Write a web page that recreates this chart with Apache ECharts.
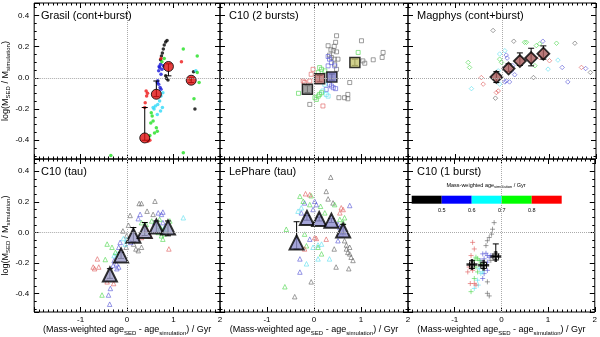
<!DOCTYPE html>
<html>
<head>
<meta charset="UTF-8">
<title>SED fits: mass offset vs age offset</title>
<script src="https://cdn.jsdelivr.net/npm/echarts@6/dist/echarts.min.js"></script>
<style>
    html, body { margin: 0; padding: 0; background: #fff; }
    #chart { width: 600px; height: 337px; }
</style>
</head>
<body>
<div id="chart"></div>
<script>
// ---- data ----
const panelTitles = ['Grasil (cont+burst)', 'C10 (2 bursts)', 'Magphys (cont+burst)', 'C10 (tau)', 'LePhare (tau)', 'C10 (1 burst)'];
const xTickLabels = ['-1', '0', '1', '2'];
const yTickLabels = ['-0.4', '-0.2', '0.0', '0.2', '0.4'];
const ageBinLabels = ['0.5', '0.6', '0.7', '0.8'];

// Grasil (cont+burst): points per age bin (black, blue, cyan, green, red)
const grasilBlack = [[0.86,0.24],[0.83,0.23],[0.80,0.21],[0.78,0.185],[0.76,0.16],[0.74,0.14],[0.72,0.116],[0.83,0.013],[0.85,-0.004],[0.88,-0.013],[1.46,-0.2],[1.43,0.04]];
const grasilBlue = [[0.72,0.088],[0.70,0.067],[0.68,0.045],[0.75,0.056],[0.66,-0.019],[0.68,-0.041],[0.71,-0.062],[0.73,-0.073],[0.65,-0.03],[0.69,0.073],[0.78,0.077],[0.73,0.024]];
const grasilCyan = [[0.77,-0.095],[0.73,-0.116],[0.70,-0.148],[0.66,-0.17],[0.61,-0.18],[0.58,-0.2],[0.76,-0.19],[0.72,-0.213],[0.65,-0.234],[0.56,-0.19],[1.48,0.045]];
const grasilGreen = [[1.21,0.185],[1.51,0.14],[1.44,-0.133],[1.55,-0.03],[1.51,0.035],[1.36,-0.009],[0.52,-0.224],[0.54,-0.245],[0.56,-0.277],[0.63,-0.32],[0.65,-0.342],[0.59,-0.353],[1.21,-0.48],[0.80,0.125],[0.75,0.103],[0.49,-0.37],[0.51,-0.29],[-0.35,-0.497]];
const grasilRed = [[0.41,-0.084],[0.42,-0.116],[0.44,-0.099],[0.38,-0.19],[1.17,0.103],[0.73,0.125],[0.45,-0.406],[0.49,-0.40],[0.39,-0.16]];
const grasilMeanX = [0.38, 0.63, 0.89, 1.38];
const grasilMeanY = [-0.385, -0.105, 0.073, -0.015];
const grasilErrLo = [-0.40, -0.12, 0.013, -0.03];
const grasilErrHi = [-0.19, -0.02, 0.09, 0.0];

// C10 (2 bursts)
const c10b2Grey = [[0.48,0.27],[0.46,0.228],[0.43,0.202],[0.30,0.206],[0.36,0.18],[0.41,0.174],[0.48,0.167],[0.33,0.146],[0.37,0.131],[0.43,0.12],[0.51,0.12],[0.44,0.088],[1.01,0.238],[1.47,0.163],[1.45,0.131],[1.26,0.116],[1.08,0.094],[1.04,0.109],[0.76,-0.03],[0.72,-0.106],[0.65,-0.127],[0.72,-0.134],[0.53,-0.127],[-0.09,-0.17],[0.48,0.055]];
const c10b2Blue = [[0.30,0.137],[0.33,0.12],[0.37,0.098],[0.44,0.077],[0.30,0.077],[0.26,-0.074],[0.33,-0.041],[0.37,-0.052],[0.41,-0.063],[0.46,-0.069]];
const c10b2Cyan = [[0.23,-0.041],[0.26,-0.106],[0.30,-0.117],[0.19,-0.084]];
const c10b2Green = [[0.12,0.066],[0.16,0.055],[0.09,0.034],[0.23,0.045],[0.02,-0.127],[0.09,-0.117],[0.05,-0.138],[0.12,-0.106],[0.94,0.163],[-0.33,-0.099],[0.16,-0.095]];
const c10b2Red = [[-0.06,0.023],[-0.09,-0.02],[-0.23,-0.02],[-0.20,-0.03],[0.19,-0.18],[-0.02,0.055]];
const c10b2MeanX = [-0.14, 0.12, 0.38, 0.87];
const c10b2MeanY = [-0.073, -0.005, 0.006, 0.099];
const c10b2ErrLo = [-0.095, -0.025, -0.015, 0.08];
const c10b2ErrHi = [-0.05, 0.015, 0.025, 0.12];

// Magphys (cont+burst)
const magBlack = [[-0.19,0.304],[0.25,0.235],[1.55,0.222],[0.67,0.002],[-0.14,-0.13],[1.88,0.035]];
const magBlue = [[0.09,0.146],[0.11,0.127],[0.2,0.045],[0.27,0.02],[0.16,-0.026],[0.09,-0.019],[1.28,0.067],[1.4,-0.026],[0.87,0.235],[1.78,0.06],[0.23,0.078],[0.06,-0.026]];
const magCyan = [[-0.05,0.153],[-0.08,0.045],[-0.65,-0.069],[0.98,0.056],[1.19,0.114],[0.06,0.174],[-0.05,-0.04]];
const magGreen = [[0.48,0.228],[0.52,0.228],[0.8,0.218],[1.16,0.222],[-0.72,0.099],[-0.69,0.067],[-0.05,0.12],[-0.01,0.099],[0.7,0.078],[0.73,0.207]];
const magRed = [[-0.44,0.002],[-0.4,-0.04],[1.01,0.11],[1.69,0.067],[-0.12,-0.094],[-0.08,-0.084],[0.8,0.13]];
const magMeanX = [-0.12, 0.14, 0.38, 0.62, 0.88];
const magMeanY = [0.005, 0.06, 0.108, 0.127, 0.155];
const magErrLo = [-0.03, 0.04, 0.08, 0.077, 0.12];
const magErrHi = [0.04, 0.09, 0.16, 0.19, 0.205];

// C10 (tau)
const c10tBlack = [[0.26,0.189],[0.31,0.189],[0.6,0.204],[0.43,0.139],[0.56,0.118],[0.065,0.111],[0.03,0.047],[-0.09,0.01],[-0.01,-0.022],[0.19,-0.108],[0.24,-0.119],[0.31,-0.097],[0.14,-0.076],[-0.02,-0.097]];
const c10tBlue = [[0.28,0.118],[0.24,0.09],[0.67,0.128],[0.77,0.133],[0.74,0.118],[-0.15,-0.065],[-0.18,-0.097],[-0.23,-0.205],[-0.28,-0.183],[-0.18,-0.226],[-0.22,-0.237],[-0.3,-0.216],[-0.36,-0.366],[-0.4,-0.409],[-0.375,-0.469],[0.08,-0.065],[0.77,0.064],[0.6,0.064]];
const c10tCyan = [[-0.08,-0.04],[-0.04,-0.076],[-0.22,-0.14],[-0.28,-0.151],[1.21,0.096],[0.79,0.025],[-0.005,-0.044]];
const c10tGreen = [[0.31,0.064],[0.41,0.053],[0.53,0.075],[0.7,0.085],[0.67,0.0],[0.74,-0.022],[0.77,-0.044],[0.85,0.021],[-0.43,-0.076],[-0.325,-0.097],[-0.54,-0.409],[-0.25,-0.13],[-0.47,-0.177],[0.92,0.075],[0.72,0.03],[0.76,0.01],[0.68,0.04],[0.8,-0.01]];
const c10tRed = [[-0.64,-0.173],[-0.61,-0.226],[-0.73,-0.226],[-0.7,-0.237],[0.49,-0.022],[0.31,-0.033],[0.9,-0.108],[-0.29,-0.334],[-0.43,-0.323],[0.42,0.021]];
const c10tMeanX = [-0.37, -0.13, 0.135, 0.38, 0.63, 0.88];
const c10tMeanY = [-0.275, -0.15, -0.022, 0.01, 0.039, 0.032];
const c10tErrLo = [-0.30, -0.17, -0.06, -0.02, 0.0, -0.022];
const c10tErrHi = [-0.237, -0.13, 0.032, 0.065, 0.075, 0.075];

// LePhare (tau)
const lepBlack = [[0.356,0.361],[0.26,0.268],[0.3,0.219],[0.405,0.193],[0.76,-0.097],[0.69,-0.108],[0.72,-0.13],[0.76,-0.14],[0.79,-0.162],[0.69,-0.082],[0.65,-0.054],[0.47,-0.226],[0.74,-0.237],[0.83,-0.183],[-0.06,-0.323],[-0.41,-0.42],[0.43,-0.108]];
const lepBlue = [[0.76,0.176],[0.015,0.204],[0.05,0.182],[-0.2,0.193],[-0.27,0.128],[-0.02,0.15],[0.51,-0.054],[0.51,0.053],[-0.3,-0.173],[-0.3,-0.259],[-0.09,-0.044],[0.58,-0.011],[0.55,0.032]];
const lepCyan = [[-0.27,0.161],[-0.34,0.139],[0.086,-0.082],[-0.02,-0.097],[-0.16,-0.205],[0.086,-0.173],[0.33,-0.173],[0.16,-0.076]];
const lepGreen = [[-0.3,0.236],[-0.23,0.204],[-0.09,0.182],[-0.06,0.24],[0.14,0.171],[0.23,0.128],[0.44,0.182],[0.55,0.085],[0.62,0.064],[0.65,0.096],[-0.2,-0.011],[0.086,-0.097],[-0.16,-0.087],[0.16,-0.14],[-0.62,-0.355],[-0.59,0.021]];
const lepRed = [[-0.18,0.253],[-0.09,0.247],[0.55,0.128],[0.58,0.161],[0.62,0.15],[0.015,-0.033],[0.05,-0.039],[-0.2,-0.108],[0.26,-0.044]];
const lepMeanX = [-0.37, -0.15, 0.11, 0.37, 0.62];
const lepMeanY = [-0.065, 0.094, 0.088, 0.077, 0.013];
const lepErrLo = [-0.108, 0.08, 0.075, 0.065, -0.01];
const lepErrHi = [0.07, 0.11, 0.10, 0.09, 0.053];

// C10 (1 burst)
const c10b1Black = [[-0.155,0.064],[-0.19,0.021],[-0.21,-0.011],[-0.26,-0.033],[-0.3,-0.054],[-0.33,-0.086],[-0.155,-0.14],[-0.085,-0.14],[-0.3,-0.323],[-0.3,-0.398],[-0.26,-0.415],[-0.226,-0.183]];
const c10b1Blue = [[-0.4,-0.14],[-0.33,-0.136],[-0.3,-0.151],[-0.26,-0.162],[-0.226,-0.151],[-0.37,-0.172],[-0.3,-0.194],[-0.44,-0.183],[-0.37,-0.269],[-0.4,-0.301],[-0.3,-0.248]];
const c10b1Cyan = [[-0.475,-0.237],[-0.44,-0.269],[-0.51,-0.312],[-0.495,-0.344],[-0.58,-0.366],[-0.4,-0.258]];
const c10b1Green = [[-0.545,-0.162],[-0.51,-0.172],[-0.475,-0.183],[-0.58,-0.183],[-0.44,-0.205],[-0.545,-0.226],[-0.51,-0.258],[-0.65,-0.387],[-0.58,-0.301]];
const c10b1Red = [[-0.616,-0.065],[-0.58,-0.108],[-0.65,-0.151],[-0.69,-0.226],[-0.616,-0.248],[-0.72,-0.258],[-0.666,-0.334],[-0.58,-0.334],[-0.545,-0.344]];
const c10b1MeanX = [-0.63, -0.38, -0.12];
const c10b1MeanY = [-0.21, -0.215, -0.157];
const c10b1ErrLo = [-0.235, -0.235, -0.18];
const c10b1ErrHi = [-0.185, -0.195, -0.075];
const c10b1XErrLo = [-0.68, -0.44, -0.18];
const c10b1XErrHi = [-0.58, -0.32, -0.06];

// ---- layout / style ----
const FONT = "'Liberation Sans', Arial, sans-serif";
const PANEL_L = 32, PANEL_T = 3, PANEL_W = 188, PANEL_H = 156;
const Y_MIN = -0.52, Y_MAX = 0.48;

const binColors = ['#000000', '#0000ff', '#00ffff', '#00ff00', '#ff0000'];
const dotColors = ['#000000', '#1818d8', '#30d8f8', '#20e020', '#ee1818'];
const openColors = ['#666666', '#5a5ad8', '#60e0f0', '#50d850', '#e06060'];
const PLUS = 'path://M0,5L10,5M5,0L5,10';

const rich = {
    t: { fontSize: 9, lineHeight: 12, color: '#000', fontFamily: FONT },
    s: { fontSize: 6, lineHeight: 6, verticalAlign: 'bottom', color: '#000', fontFamily: FONT }
};
const xName = '{t|(Mass-weighted age}{s|SED}{t| - age}{s|simulation}{t|) / Gyr}';
const yName = '{t|log(M}{s|SED}{t| / M}{s|simulation}{t|)}';

const grids = [], xAxes = [], yAxes = [];
for (let i = 0; i < 6; i++) {
    const col = i % 3, row = Math.floor(i / 3);
    grids.push({
        left: PANEL_L + col * PANEL_W, top: PANEL_T + row * PANEL_H,
        width: PANEL_W, height: PANEL_H,
        show: true, borderColor: '#000', borderWidth: 1, backgroundColor: 'transparent'
    });
}
function xAxisFor(i, pos) {
    const labelled = pos === 'bottom' && i >= 3;
    return {
        type: 'value', gridIndex: i, position: pos, min: -2, max: 2, interval: 1,
        axisLine: { show: false, onZero: false }, splitLine: { show: false },
        axisTick: { inside: true, length: 5, lineStyle: { color: '#000' } },
        minorTick: { show: true, splitNumber: 10, length: 2.5, lineStyle: { color: '#000' } },
        axisLabel: {
            show: labelled, margin: 4, fontSize: 8, color: '#000', fontFamily: FONT,
            formatter: v => xTickLabels.includes(String(v)) ? String(v) : ''
        },
        name: labelled ? xName : '', nameLocation: 'middle', nameGap: 12,
        nameTextStyle: { rich: rich }
    };
}
function yAxisFor(i, pos) {
    const labelled = pos === 'left' && i % 3 === 0;
    return {
        type: 'value', gridIndex: i, position: pos, min: Y_MIN, max: Y_MAX, splitNumber: 5,
        axisLine: { show: false, onZero: false }, splitLine: { show: false },
        axisTick: { inside: true, length: 5, lineStyle: { color: '#000' } },
        minorTick: { show: true, splitNumber: 4, length: 2.5, lineStyle: { color: '#000' } },
        axisLabel: {
            show: labelled, margin: 5, fontSize: 8, color: '#000', fontFamily: FONT,
            formatter: v => {
                const s = Number(v).toFixed(1);
                return (yTickLabels.includes(s) && Math.abs(v - Number(s)) < 1e-6) ? s : '';
            }
        },
        name: labelled ? yName : '', nameLocation: 'middle', nameGap: 20,
        nameTextStyle: { rich: rich }
    };
}
for (let i = 0; i < 6; i++) { xAxes.push(xAxisFor(i, 'bottom')); yAxes.push(yAxisFor(i, 'left')); }
for (let i = 0; i < 6; i++) { xAxes.push(xAxisFor(i, 'top')); yAxes.push(yAxisFor(i, 'right')); }

// small points, one series per age bin
function pointSeries(i, groups, symbol, size, filled) {
    return groups.map((pts, k) => {
        const s = {
            type: 'scatter', xAxisIndex: i, yAxisIndex: i, data: pts, symbol: symbol, symbolSize: size,
            silent: true, z: 2,
            itemStyle: filled
                ? { color: dotColors[k] }
                : { color: 'rgba(0,0,0,0)', borderColor: openColors[k], borderWidth: 0.8 }
        };
        if (k === 0) {
            s.markLine = {
                silent: true, symbol: 'none', label: { show: false }, animation: false,
                lineStyle: { type: 'dotted', color: '#aaa', width: 1 },
                data: [{ xAxis: 0 }, { yAxis: 0 }]
            };
        }
        return s;
    });
}

// error bars drawn through the axis scales
function errorSeries(i, xs, ys, lo, hi, xlo, xhi) {
    const data = xs.map((x, k) => [x, ys[k], lo[k], hi[k], xlo ? xlo[k] : x, xhi ? xhi[k] : x]);
    return {
        type: 'custom', xAxisIndex: i, yAxisIndex: i, z: 3, silent: true, data: data,
        encode: { x: [0, 4, 5], y: [1, 2, 3] },
        renderItem(params, api) {
            const x = api.value(0), y = api.value(1);
            const a = api.coord([x, api.value(2)]), b = api.coord([x, api.value(3)]);
            const st = { stroke: '#000', lineWidth: 1 };
            const c = 3;
            const kids = [
                { type: 'line', shape: { x1: a[0], y1: a[1], x2: b[0], y2: b[1] }, style: st },
                { type: 'line', shape: { x1: a[0] - c, y1: a[1], x2: a[0] + c, y2: a[1] }, style: st },
                { type: 'line', shape: { x1: b[0] - c, y1: b[1], x2: b[0] + c, y2: b[1] }, style: st }
            ];
            if (api.value(4) !== api.value(5)) {
                const p = api.coord([api.value(4), y]), q = api.coord([api.value(5), y]);
                kids.push({ type: 'line', shape: { x1: p[0], y1: p[1], x2: q[0], y2: q[1] }, style: st });
                kids.push({ type: 'line', shape: { x1: p[0], y1: p[1] - c, x2: p[0], y2: p[1] + c }, style: st });
                kids.push({ type: 'line', shape: { x1: q[0], y1: q[1] - c, x2: q[0], y2: q[1] + c }, style: st });
            }
            return { type: 'group', children: kids };
        }
    };
}

function meanSeries(i, xs, ys, symbol, size, itemStyle) {
    return {
        type: 'scatter', xAxisIndex: i, yAxisIndex: i, z: 4, silent: true,
        data: xs.map((x, k) => [x, ys[k]]),
        symbol: symbol, symbolSize: size, itemStyle: itemStyle
    };
}

const squareFills = ['#8c8c8c', '#c07070', '#7a7ac4', '#c4c470'];

const series = [].concat(
    pointSeries(0, [grasilBlack, grasilBlue, grasilCyan, grasilGreen, grasilRed], 'circle', 3.5, true),
    [errorSeries(0, grasilMeanX, grasilMeanY, grasilErrLo, grasilErrHi)],
    [meanSeries(0, grasilMeanX, grasilMeanY, 'circle', 10, { color: '#e01010', borderColor: '#000', borderWidth: 1 })],

    pointSeries(1, [c10b2Grey, c10b2Blue, c10b2Cyan, c10b2Green, c10b2Red], 'rect', 4, false),
    [meanSeries(1, c10b2MeanX, c10b2MeanY, 'rect', 10, {
        color: p => squareFills[p.dataIndex], borderColor: '#000', borderWidth: 1.5 })],
    [errorSeries(1, c10b2MeanX, c10b2MeanY, c10b2ErrLo, c10b2ErrHi)],

    pointSeries(2, [magBlack, magBlue, magCyan, magGreen, magRed], 'diamond', 4.5, false),
    [errorSeries(2, magMeanX, magMeanY, magErrLo, magErrHi)],
    [meanSeries(2, magMeanX, magMeanY, 'diamond', 12, { color: '#a85a5a', borderColor: '#000', borderWidth: 1.8 })],

    pointSeries(3, [c10tBlack, c10tBlue, c10tCyan, c10tGreen, c10tRed], 'triangle', 4.5, false),
    [errorSeries(3, c10tMeanX, c10tMeanY, c10tErrLo, c10tErrHi)],
    [meanSeries(3, c10tMeanX, c10tMeanY, 'triangle', 14, { color: '#9a9ac6', borderColor: '#000', borderWidth: 2 })],

    pointSeries(4, [lepBlack, lepBlue, lepCyan, lepGreen, lepRed], 'triangle', 4.5, false),
    [errorSeries(4, lepMeanX, lepMeanY, lepErrLo, lepErrHi)],
    [meanSeries(4, lepMeanX, lepMeanY, 'triangle', 14, { color: '#8e8ed0', borderColor: '#000', borderWidth: 2 })],

    pointSeries(5, [c10b1Black, c10b1Blue, c10b1Cyan, c10b1Green, c10b1Red], PLUS, 5, false),
    [errorSeries(5, c10b1MeanX, c10b1MeanY, c10b1ErrLo, c10b1ErrHi, c10b1XErrLo, c10b1XErrHi)],
    [meanSeries(5, c10b1MeanX, c10b1MeanY, PLUS, 11, { color: 'rgba(0,0,0,0)', borderColor: '#000', borderWidth: 2.5 })]
);

// colour bar for simulation age (inside the last panel)
const barLeft = 411.7, barTop = 195.7, segW = 30, barH = 8;
const graphic = [];
binColors.forEach((c, k) => {
    graphic.push({ type: 'rect', silent: true, shape: { x: barLeft + k * segW, y: barTop, width: segW, height: barH }, style: { fill: c } });
});
ageBinLabels.forEach((t, k) => {
    graphic.push({ type: 'text', silent: true, x: barLeft + (k + 1) * segW, y: 210,
        style: { text: t, align: 'center', verticalAlign: 'middle', fontSize: 5.5, fill: '#000', fontFamily: FONT } });
});
graphic.push({ type: 'text', silent: true, x: 486, y: 185, style: {
    text: '{t|Mass-weighted age}{s|simulation}{t| / Gyr}', align: 'center', verticalAlign: 'middle',
    rich: {
        t: { fontSize: 5.5, lineHeight: 8, fill: '#000', fontFamily: FONT },
        s: { fontSize: 4, lineHeight: 4, verticalAlign: 'bottom', fill: '#000', fontFamily: FONT }
    }
} });

const chart = echarts.init(document.getElementById('chart'));
chart.setOption({
    animation: false,
    backgroundColor: '#fff',
    textStyle: { fontFamily: FONT },
    title: panelTitles.map((t, i) => ({
        text: t, padding: 0,
        left: PANEL_L + (i % 3) * PANEL_W + 9,
        top: PANEL_T + Math.floor(i / 3) * PANEL_H + 7,
        textStyle: { fontSize: 11, fontWeight: 'normal', color: '#000', fontFamily: FONT }
    })),
    grid: grids,
    xAxis: xAxes,
    yAxis: yAxes,
    series: series,
    graphic: graphic
});
</script>
</body>
</html>
